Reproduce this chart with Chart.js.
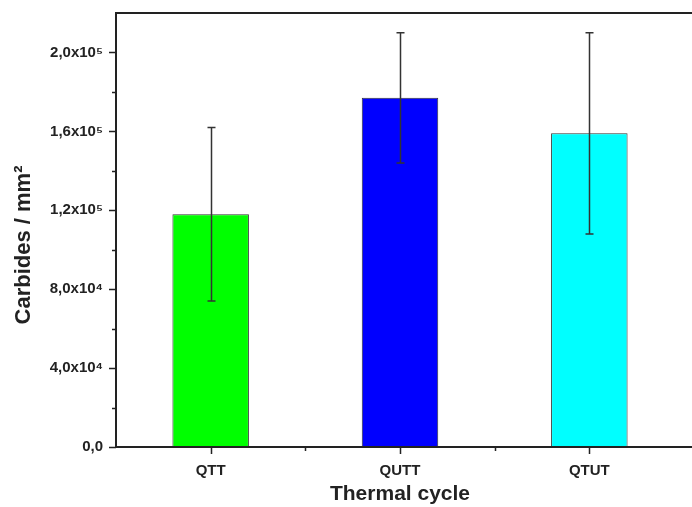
<!DOCTYPE html>
<html>
<head>
<meta charset="utf-8">
<script src="https://cdn.jsdelivr.net/npm/chart.js@4"></script>
<style>
  html, body { margin: 0; padding: 0; background: #fff; overflow: hidden; }
  #wrap { width: 692px; height: 507px; overflow: hidden; }
</style>
</head>
<body>
<div id="wrap"><canvas id="myChart" width="692" height="511"></canvas></div>
<script>
const cycles = ['QTT', 'QUTT', 'QTUT']
const carbides = [118000, 177000, 159000]
const carbidesErr = [44000, 33000, 51000]
const barColors = ['#00ff00', '#0000ff', '#00ffff']
const yTicks = ['0,0', '4,0x10\u2074', '8,0x10\u2074', '1,2x10\u2075', '1,6x10\u2075', '2,0x10\u2075']
const yTitle = 'Carbides / mm\u00b2'

const ink = '#222'
const font = 'Liberation Sans'

// error bars, axis lines, minor ticks, y title
const extras = {
  id: 'extras',
  afterDatasetsDraw(chart) {
    const c = chart.ctx
    const x = chart.scales.x
    const y = chart.scales.y
    const a = chart.chartArea
    c.save()
    c.strokeStyle = '#333'
    c.lineWidth = 1.5
    carbides.forEach((v, i) => {
      const px = Math.round(x.getPixelForValue(i)) + 0.5
      const top = y.getPixelForValue(v + carbidesErr[i])
      const bot = y.getPixelForValue(v - carbidesErr[i])
      c.beginPath()
      c.moveTo(px, top); c.lineTo(px, bot)
      c.moveTo(px - 4, top); c.lineTo(px + 4, top)
      c.moveTo(px - 4, bot); c.lineTo(px + 4, bot)
      c.stroke()
    })

    c.strokeStyle = ink
    c.lineWidth = 2
    c.beginPath()
    // top border and bottom axis run off the right edge
    c.moveTo(a.left, a.top); c.lineTo(chart.width, a.top)
    c.moveTo(a.left - 1, a.bottom); c.lineTo(chart.width, a.bottom)
    c.moveTo(a.left, a.top - 1); c.lineTo(a.left, a.bottom + 1)
    c.stroke()

    c.lineWidth = 1.5
    c.beginPath()
    for (let v = 0; v <= 200000; v += 20000) {
      const py = Math.round(y.getPixelForValue(v)) + 0.5
      const len = v % 40000 === 0 ? 7 : 4
      c.moveTo(a.left - len, py); c.lineTo(a.left, py)
    }
    for (let i = 0; i < cycles.length; i++) {
      const px = Math.round(x.getPixelForValue(i)) + 0.5
      c.moveTo(px, a.bottom); c.lineTo(px, a.bottom + 7)
      if (i < cycles.length - 1) {
        const pm = Math.round(x.getPixelForValue(i + 0.5)) + 0.5
        c.moveTo(pm, a.bottom); c.lineTo(pm, a.bottom + 4)
      }
    }
    c.stroke()

    c.translate(24, 245)
    c.rotate(-Math.PI / 2)
    c.fillStyle = ink
    c.font = 'bold 22px "' + font + '"'
    c.textAlign = 'center'
    c.textBaseline = 'middle'
    c.fillText(yTitle, 0, 0)
    c.restore()
  }
}

const ctx = document.getElementById('myChart').getContext('2d')

const data = {
  labels: cycles,
  datasets: [{
    label: 'Carbides',
    data: carbides,
    backgroundColor: barColors,
    borderColor: '#333',
    borderWidth: 1,
    categoryPercentage: 1,
    barPercentage: 0.404
  }]
}

const options = {
  responsive: false,
  animation: false,
  layout: { padding: { top: 13, right: 8, left: 0, bottom: 0 } },
  plugins: {
    legend: { display: false },
    tooltip: { enabled: false }
  },
  scales: {
    x: {
      grid: { display: false, drawTicks: false },
      border: { display: false },
      ticks: {
        color: ink,
        padding: 15,
        font: { family: font, size: 15, weight: 'bold' }
      },
      title: {
        display: true,
        text: 'Thermal cycle',
        color: ink,
        padding: { top: 5 },
        font: { family: font, size: 21, weight: 'bold' }
      },
      afterFit(scale) {
        scale.height = 64
        scale.paddingLeft = 0
        scale.paddingRight = 0
      }
    },
    y: {
      min: 0,
      max: 220000,
      grid: { display: false, drawTicks: false },
      border: { display: false },
      afterBuildTicks(scale) {
        scale.ticks = yTicks.map((t, i) => ({ value: i * 40000 }))
      },
      ticks: {
        color: ink,
        padding: 13,
        font: { family: font, size: 15, weight: 'bold' },
        callback: (v, i) => yTicks[i]
      },
      afterFit(scale) {
        scale.width = 116
        scale.paddingTop = 0
        scale.paddingBottom = 0
      }
    }
  }
}

const myChart = new Chart(ctx, {
  type: 'bar',
  data: data,
  options: options,
  plugins: [extras]
})
</script>
</body>
</html>
